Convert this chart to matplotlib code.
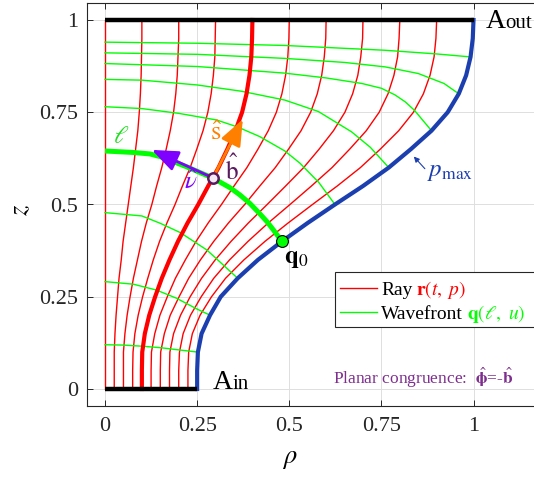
import matplotlib.pyplot as plt
from matplotlib.patches import Rectangle, FancyArrowPatch, ArrowStyle

plt.rcParams["font.family"] = ["Liberation Serif", "DejaVu Serif"]
plt.rcParams["mathtext.fontset"] = "stix"

# heights at which every ray is sampled
z_levels = [0.0, 0.05, 0.1, 0.15, 0.2, 0.25, 0.3, 0.35, 0.4, 0.45, 0.5,
            0.55, 0.6, 0.65, 0.7, 0.75, 0.8, 0.85, 0.9, 0.95, 1.0]

# rho of the rays p = 0.1 ... 0.9 at z_levels
ray_rho = [
    [0.025, 0.025, 0.025, 0.027, 0.030, 0.034, 0.038, 0.044, 0.049, 0.056, 0.063,
     0.070, 0.077, 0.083, 0.089, 0.093, 0.096, 0.098, 0.099, 0.100, 0.100],
    [0.050, 0.050, 0.050, 0.054, 0.060, 0.068, 0.077, 0.088, 0.099, 0.112, 0.127,
     0.140, 0.154, 0.166, 0.177, 0.186, 0.192, 0.196, 0.198, 0.200, 0.200],
    [0.075, 0.075, 0.076, 0.081, 0.090, 0.102, 0.116, 0.131, 0.148, 0.168, 0.190,
     0.210, 0.231, 0.249, 0.266, 0.279, 0.288, 0.294, 0.298, 0.299, 0.300],
    [0.100, 0.100, 0.101, 0.108, 0.120, 0.136, 0.154, 0.175, 0.198, 0.224, 0.253,
     0.280, 0.308, 0.332, 0.354, 0.372, 0.384, 0.392, 0.397, 0.399, 0.400],
    [0.125, 0.125, 0.126, 0.135, 0.149, 0.169, 0.191, 0.218, 0.247, 0.280, 0.316,
     0.350, 0.385, 0.415, 0.443, 0.465, 0.480, 0.490, 0.496, 0.499, 0.500],
    [0.150, 0.150, 0.151, 0.161, 0.177, 0.201, 0.227, 0.259, 0.295, 0.335, 0.379,
     0.420, 0.462, 0.498, 0.532, 0.558, 0.576, 0.588, 0.595, 0.599, 0.600],
    [0.175, 0.175, 0.176, 0.186, 0.205, 0.231, 0.262, 0.299, 0.342, 0.389, 0.440,
     0.490, 0.539, 0.581, 0.620, 0.651, 0.672, 0.686, 0.694, 0.699, 0.700],
    [0.200, 0.200, 0.202, 0.212, 0.232, 0.261, 0.295, 0.338, 0.388, 0.443, 0.502,
     0.560, 0.616, 0.664, 0.709, 0.744, 0.768, 0.784, 0.794, 0.798, 0.800],
    [0.225, 0.225, 0.227, 0.237, 0.258, 0.289, 0.327, 0.377, 0.434, 0.497, 0.563,
     0.630, 0.693, 0.747, 0.797, 0.837, 0.864, 0.882, 0.893, 0.898, 0.900],
]
thick_ray = 3  # p = 0.4

# outer ray p_max
pmax_rho = [0.250, 0.250, 0.252, 0.262, 0.285, 0.314, 0.360, 0.415, 0.480, 0.550, 0.624,
            0.700, 0.770, 0.830, 0.886, 0.930, 0.960, 0.980, 0.992, 0.998, 1.000]

# wavefronts (thin)
wave_rho = [
    [0.0, 0.05, 0.1, 0.15, 0.2, 0.252],
    [0.0, 0.077, 0.14, 0.194, 0.249, 0.285],
    [0.0, 0.1, 0.15, 0.204, 0.276, 0.321, 0.36],
    [0.0, 0.1, 0.2, 0.303, 0.36, 0.42, 0.488, 0.529, 0.58, 0.624],
    [0.0, 0.1, 0.25, 0.37, 0.488, 0.579, 0.669, 0.72, 0.77],
    [0.0, 0.25, 0.488, 0.6, 0.697, 0.75, 0.787, 0.815, 0.84, 0.886],
    [0.0, 0.25, 0.488, 0.65, 0.76, 0.85, 0.92, 0.96],
    [0.0, 0.25, 0.488, 0.76, 0.9, 0.992],
]
wave_z = [
    [0.12, 0.119, 0.116, 0.112, 0.106, 0.1],
    [0.291, 0.284, 0.268, 0.246, 0.217, 0.2],
    [0.478, 0.469, 0.449, 0.424, 0.377, 0.336, 0.3],
    [0.765, 0.76, 0.747, 0.729, 0.71, 0.684, 0.645, 0.612, 0.56, 0.5],
    [0.839, 0.837, 0.824, 0.807, 0.783, 0.752, 0.697, 0.655, 0.6],
    [0.882, 0.874, 0.856, 0.843, 0.828, 0.815, 0.797, 0.778, 0.755, 0.7],
    [0.911, 0.907, 0.896, 0.885, 0.873, 0.855, 0.828, 0.8],
    [0.94, 0.937, 0.931, 0.918, 0.908, 0.9],
]

# highlighted wavefront l
ell_rho = [0.0, 0.077, 0.122, 0.149, 0.194, 0.222, 0.294, 0.34, 0.366, 0.393, 0.42, 0.44, 0.457, 0.48]
ell_z = [0.645, 0.641, 0.637, 0.630, 0.613, 0.602, 0.571, 0.545, 0.526, 0.503, 0.475, 0.453, 0.431, 0.40]

point_b = (0.293, 0.572)
point_q0 = (0.479, 0.401)
nu_tip = (0.127, 0.648)
s_tip = (0.374, 0.731)

ticks = [0, 0.25, 0.5, 0.75, 1]
tick_labels = ["0", "0.25", "0.5", "0.75", "1"]

RED = "#ff0000"
GREEN = "#00ff00"
BLUE = "#1c3fb0"
ORANGE = "#ff8000"
VIOLET = "#7f00ff"
DPURPLE = "#5a1a5e"
PURPLE = "#7e2f8e"

fig = plt.figure(figsize=(5.34, 4.78), dpi=100)
ax = fig.add_axes([86.6 / 534, (478 - 405.6) / 478, 460.6 / 534, 402.2 / 478])
ax.set_xlim(-0.05, 1.2)
ax.set_ylim(-0.045, 1.045)

ax.set_xticks(ticks)
ax.set_xticklabels(tick_labels)
ax.set_yticks(ticks)
ax.set_yticklabels(tick_labels)
ax.tick_params(direction="in", length=4, width=0.7, top=True, right=True,
               labelsize=16, color="#262626", labelcolor="#262626")
ax.tick_params(axis="x", pad=8)
ax.tick_params(axis="y", pad=6)
for s in ax.spines.values():
    s.set_color("#262626")
    s.set_linewidth(0.8)
ax.grid(True, color="#dedede", lw=0.7)
ax.set_axisbelow(True)

# rays
ax.plot([0, 0], [0, 1], color=RED, lw=1.0, zorder=2)
for i, r in enumerate(ray_rho):
    if i == thick_ray:
        continue
    ax.plot(r, z_levels, color=RED, lw=1.0, zorder=2)

# wavefronts
for wr, wz in zip(wave_rho, wave_z):
    ax.plot(wr, wz, color=GREEN, lw=1.0, zorder=3)

ax.plot(ray_rho[thick_ray], z_levels, color=RED, lw=3.0, zorder=4)
ax.plot(ell_rho, ell_z, color=GREEN, lw=3.6, zorder=5, solid_capstyle="butt")
ax.plot(pmax_rho, z_levels, color=BLUE, lw=3.0, zorder=6)

# apertures
ax.plot([0, 1], [1, 1], color="black", lw=3.2, zorder=7, solid_capstyle="butt")
ax.plot([0, 0.25], [0, 0], color="black", lw=3.2, zorder=7, solid_capstyle="butt")

# frame vectors
for tip, col in [(nu_tip, VIOLET), (s_tip, ORANGE)]:
    ax.add_patch(FancyArrowPatch(point_b, tip, arrowstyle=ArrowStyle("-|>", head_length=0.8, head_width=0.32),
                                 mutation_scale=20, lw=2.0, color=col, shrinkA=0, shrinkB=0, zorder=8))
ax.plot(*point_b, "o", ms=7.5, mfc="#f3e9f3", mec=DPURPLE, mew=1.8, zorder=9)
ax.plot(*point_q0, "o", ms=8.5, mfc=GREEN, mec="black", mew=0.8, zorder=9)

ax.text(0.301, 0.693, r"$\hat{\mathrm{s}}$", color=ORANGE, fontsize=19, ha="center", va="center", zorder=10)
ax.text(0.344, 0.593, r"$\hat{\mathrm{b}}$", color=DPURPLE, fontsize=18, ha="center", va="center", zorder=10)
ax.text(0.233, 0.56, r"$\hat{\nu}$", color=VIOLET, fontsize=18, ha="center", va="center", zorder=10)
ax.text(0.045, 0.682, r"$\ell$", color="#22dd22", fontsize=18, ha="center", va="center", zorder=10)
ax.text(0.486, 0.352, r"$\mathbf{q}_0$", color="black", fontsize=18, ha="left", va="center", zorder=10)

# p_max label
ax.add_patch(FancyArrowPatch((0.868, 0.597), (0.838, 0.63), arrowstyle="-|>", mutation_scale=8,
                             lw=0.8, color=BLUE, shrinkA=0, shrinkB=0, zorder=10))
ax.text(0.875, 0.588, r"$p_{\mathrm{max}}$", color=BLUE, fontsize=18, ha="left", va="center", zorder=10)

renderer = fig.canvas.get_renderer()


def chain(x, y, pieces, gap_px=0):
    # place pieces of text one after another on a common baseline
    for s, col, size in pieces:
        t = ax.text(x, y, s, color=col, fontsize=size, ha="left", va="baseline", zorder=12)
        bb = t.get_window_extent(renderer)
        x = ax.transData.inverted().transform((bb.x1 + gap_px, bb.y0))[0]


chain(1.033, 0.977, [("A", "black", 20), ("out", "black", 15)])
chain(0.293, 0.0, [("A", "black", 20), ("in", "black", 15)])

# legend
ax.add_patch(Rectangle((0.624, 0.168), 0.6, 0.15, facecolor="white", edgecolor="#262626", lw=0.8, zorder=11))
ax.plot([0.638, 0.737], [0.273, 0.273], color=RED, lw=1.0, zorder=12)
ax.plot([0.638, 0.737], [0.2095, 0.2095], color=GREEN, lw=1.0, zorder=12)
chain(0.749, 0.2547, [("Ray", "black", 14), (r"$\mathbf{r}(t,\ p)$", RED, 14)], gap_px=4)
chain(0.749, 0.19, [("Wavefront", "black", 14), (r"$\mathbf{q}(\ell,\ u)$", GREEN, 14)], gap_px=4)

ax.text(0.619, 0.03, r"Planar congruence:  $\hat{\mathbf{\phi}}$=-$\hat{\mathbf{b}}$", color=PURPLE,
        fontsize=12.5, ha="left", va="center", zorder=10)

ax.set_xlabel(r"$\rho$", fontsize=19)
ax.set_ylabel(r"$z$", fontsize=19)
ax.xaxis.set_label_coords(0.4416, -0.135)
ax.yaxis.set_label_coords(-0.1424, 0.486)
ax.xaxis.label.set_va("center")
ax.yaxis.label.set_va("center")

fig.savefig("out.png", dpi=100)
